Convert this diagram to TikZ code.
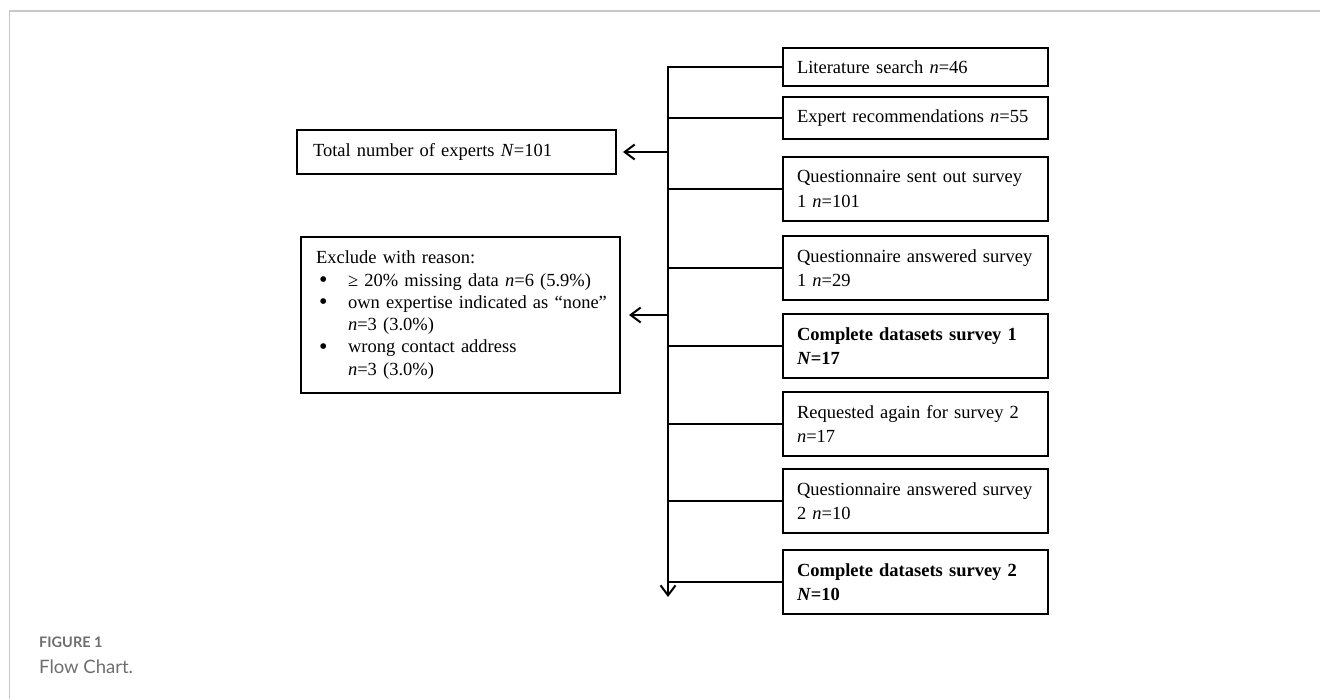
\documentclass[tikz,border=0pt]{standalone}
\usepackage{fontspec}
\setmainfont{Liberation Serif}
\newfontfamily\capfont{Lato}
\usetikzlibrary{arrows.meta}
\definecolor{capgrey}{HTML}{6E6E6E}
\definecolor{framegrey}{HTML}{C8C8C8}
\newcommand{\blt}{\hspace*{3pt}\makebox[29pt][l]{\raisebox{-1.2pt}{\fontsize{24}{22}\selectfont •}}}
\tikzset{
  box/.style={draw, line width=2pt, rectangle, anchor=north west, align=left,
    inner ysep=0pt, font=\fontsize{18.5}{24.5}\selectfont},
  rbox/.style={box, inner xsep=14pt, text width=237pt},
  conn/.style={line width=2pt},
  arr/.style={line width=2pt, -{Straight Barb[length=10pt,width=15pt,line width=2pt]}},
  captext/.style={anchor=west, inner sep=0pt, text=capgrey},
}
\begin{document}
\begin{tikzpicture}[x=1pt,y=-1pt]
\useasboundingbox (0,0) rectangle (1320,699);
\draw[framegrey, line width=1.5pt] (9.5,699) -- (9.5,11) -- (1320,11);

% right column boxes
\node[rbox, minimum height=38pt] (lit) at (782,47) {Literature search \textit{n}=46};
\node[rbox, minimum height=42pt] (exp) at (782,96) {Expert recommendations \textit{n}=55};
\node[rbox, minimum height=64pt] (qs1) at (782,156) {Questionnaire sent out survey\\1 \textit{n}=101};
\node[rbox, minimum height=64pt] (qa1) at (782,235) {Questionnaire answered survey\\1 \textit{n}=29};
\node[rbox, minimum height=64pt] (cd1) at (782,313) {\textbf{Complete datasets survey 1}\\\textbf{\textit{N}=17}};
\node[rbox, minimum height=64pt] (req) at (782,391) {Requested again for survey 2\\\textit{n}=17};
\node[rbox, minimum height=64pt] (qa2) at (782,468) {Questionnaire answered survey\\2 \textit{n}=10};
\node[rbox, minimum height=64pt] (cd2) at (782,549) {\textbf{Complete datasets survey 2}\\\textbf{\textit{N}=10}};

% left boxes
\node[box, inner xsep=16pt, text width=287pt, minimum height=44pt] (tot) at (296,129)
  {Total number of experts \textit{N}=101};
\node[box, inner xsep=15pt, text width=289pt, minimum height=156pt,
  font=\fontsize{18.5}{22.3}\selectfont] (exc) at (300,236)
  {\mbox{Exclude with reason:}\\
   \mbox{\blt ≥ 20\% missing data \textit{n}=6 (5.9\%)}\\
   \mbox{\blt own expertise indicated as “none”}\\
   \mbox{\hspace*{32pt}\textit{n}=3 (3.0\%)}\\
   \mbox{\blt wrong contact address}\\
   \mbox{\hspace*{32pt}\textit{n}=3 (3.0\%)}};

% trunk
\coordinate (ttop) at (668,66);
\coordinate (tend) at (668,597);
\draw[arr] (ttop) -- (tend);
\foreach \b in {lit,exp,qs1,qa1,cd1,req,qa2,cd2}{
  \draw[conn] (\b.west) -- (\b.west -| ttop);
}
\draw[arr, shorten >=6pt] (tot.east -| ttop) -- (tot.east);
\draw[arr, shorten >=8pt] (exc.east -| ttop) -- (exc.east);

% caption
\node[captext, font=\capfont\bfseries\fontsize{14.5}{16}\selectfont] (fig) at (39,642) {FIGURE 1};
\node[captext, font=\capfont\fontsize{18.5}{20}\selectfont] (fct) at (39,667) {Flow Chart.};
\end{tikzpicture}
\end{document}
